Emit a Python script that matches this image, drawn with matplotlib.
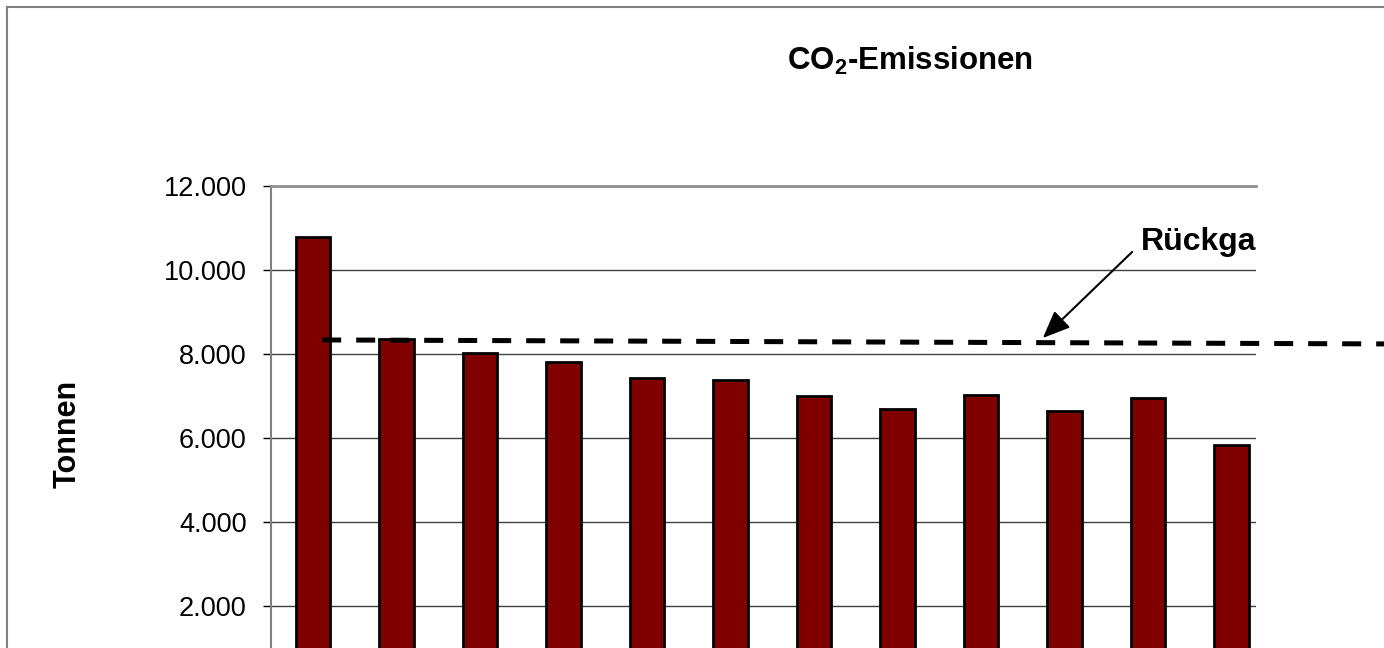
import numpy as np
import matplotlib.pyplot as plt
from matplotlib.lines import Line2D

plt.rcParams['font.family'] = ['Liberation Sans', 'DejaVu Sans']
plt.rcParams['mathtext.fontset'] = 'custom'
plt.rcParams['mathtext.rm'] = 'Liberation Sans:bold'
plt.rcParams['mathtext.it'] = 'Liberation Sans:bold'
plt.rcParams['mathtext.bf'] = 'Liberation Sans:bold'

# data (tonnes CO2)
werte = [10790, 8350, 8020, 7800, 7420, 7370, 7000, 6690, 7020, 6640, 6950, 5840]
y_ticks = [2000, 4000, 6000, 8000, 10000, 12000]
y_labels = ['2.000', '4.000', '6.000', '8.000', '10.000', '12.000']
trend_x = [0.11, 12.83]
trend_y = [8335, 8240]

W, H = 1384, 648
fig = plt.figure(figsize=(W / 100, H / 100), dpi=100)

# outer chart frame (cut off at right/bottom in the reference)
fig.add_artist(Line2D([7 / W, 1.0], [1 - 7 / H, 1 - 7 / H], color='#808080', lw=1.5))
fig.add_artist(Line2D([7 / W, 7 / W], [0, 1 - 7 / H], color='#808080', lw=1.5))

ax = fig.add_axes([271 / W, (648 - 690) / H, 985 / W, 504 / H])
x = np.arange(len(werte))
ax.bar(x, werte, width=0.413, color='#800000', edgecolor='black', linewidth=2, zorder=3)

ax.set_xlim(-0.503, 11.293)
ax.set_ylim(0, 12000)
ax.set_yticks(y_ticks)
ax.set_yticklabels(y_labels, fontsize=19.5)
ax.set_xticks([])
ax.tick_params(axis='y', length=6, width=1, pad=11.5, color='black')
ax.yaxis.grid(True, color='#404040', lw=1, zorder=0)
for s in ['right', 'bottom']:
    ax.spines[s].set_visible(False)
ax.spines['left'].set_color('#808080')
ax.spines['left'].set_linewidth(1.5)
ax.spines['top'].set_color('#909090')
ax.spines['top'].set_linewidth(2)

# dashed line (runs beyond plot area)
ln, = ax.plot(trend_x, trend_y, color='black', lw=3.6, zorder=4, clip_on=False)
ln.set_dashes([3.8, 3.0])

ax.annotate('', xy=(8.74, 8380), xytext=(9.81, 10430),
            arrowprops=dict(arrowstyle='-|>,head_length=1.2,head_width=0.5',
                            color='black', lw=1.5, mutation_scale=14,
                            shrinkA=0, shrinkB=0), zorder=5)
ax.text(9.92, 10476, 'Rückgang', fontsize=23, fontweight='bold',
        va='baseline', ha='left', clip_on=True, zorder=5)

fig.text(910 / W, 1 - 70 / H, 'CO$_2$-Emissionen', fontsize=22.5, fontweight='bold',
         ha='center', va='baseline')
fig.text(68 / W, 1 - 434 / H, 'Tonnen', fontsize=22, fontweight='bold',
         rotation=90, ha='center', va='center')

fig.savefig('out.png', dpi=100)
